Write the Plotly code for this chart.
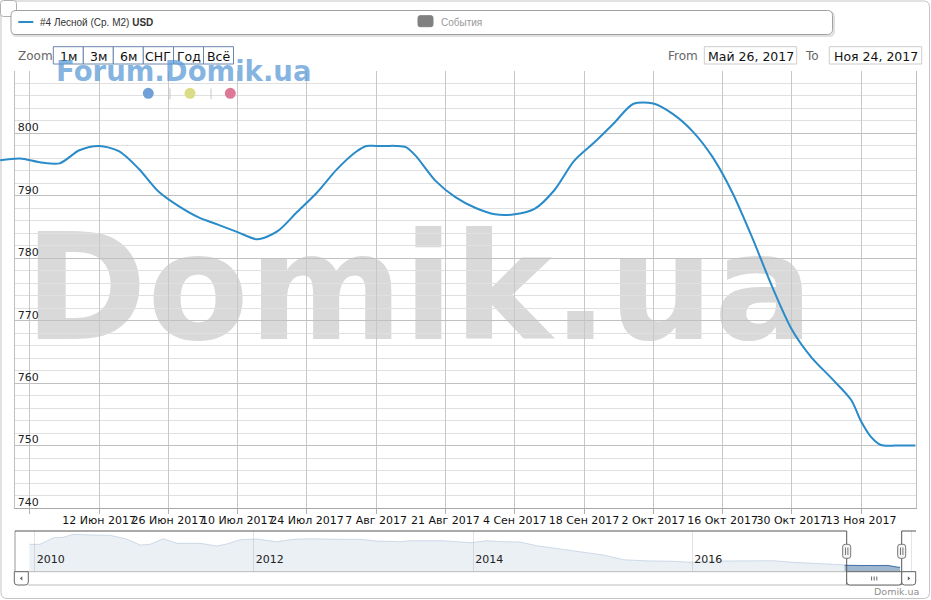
import pandas as pd
import plotly.graph_objects as go

W, H = 931, 600

# ---------------- data ----------------
dates = ['2017-05-23', '2017-05-27', '2017-05-31', '2017-06-04', '2017-06-08', '2017-06-12',
         '2017-06-16', '2017-06-20', '2017-06-24', '2017-06-28', '2017-07-02', '2017-07-06',
         '2017-07-10', '2017-07-14', '2017-07-18', '2017-07-22', '2017-07-26', '2017-07-30',
         '2017-08-03', '2017-08-05', '2017-08-07', '2017-08-09', '2017-08-11', '2017-08-13',
         '2017-08-15', '2017-08-19', '2017-08-23',
         '2017-08-27', '2017-08-31', '2017-09-04', '2017-09-08', '2017-09-12', '2017-09-16',
         '2017-09-20', '2017-09-24', '2017-09-28', '2017-10-02', '2017-10-06', '2017-10-10',
         '2017-10-14', '2017-10-18', '2017-10-22', '2017-10-26', '2017-10-30', '2017-11-03',
         '2017-11-07', '2017-11-11', '2017-11-13', '2017-11-15', '2017-11-17', '2017-11-20',
         '2017-11-24']
usd = [795.7, 796.0, 795.4, 795.2, 797.3, 798.0,
       797.15, 794.35, 790.7, 788.4, 786.6, 785.4,
       784.2, 783.05, 784.3, 787.4, 790.5, 794.2,
       797.1, 798.0, 798.0, 798.0, 798.0, 797.8,
       796.4, 792.4, 789.8,
       788.1, 787.05, 787.05, 787.9, 790.9, 795.6,
       798.5, 801.6, 804.75, 804.8, 803.1, 800.3,
       796.2, 790.5, 783.3, 775.5, 768.6, 764.1,
       760.8, 757.3, 753.9, 751.4, 750.1, 750.0,
       750.0]

nav_dates = ['2009-12-14', '2010-01-18', '2010-03-04', '2010-04-06', '2010-05-09', '2010-06-12',
             '2010-07-15', '2010-09-09', '2010-11-03', '2010-12-18', '2011-01-20', '2011-03-05',
             '2011-04-19', '2011-07-06', '2011-08-30', '2011-10-03', '2011-11-16', '2012-01-11',
             '2012-03-17', '2012-05-12', '2012-07-06', '2012-10-25', '2012-12-20', '2013-02-14',
             '2013-05-02', '2013-06-05', '2013-09-24', '2013-12-22', '2014-02-15', '2014-04-12',
             '2014-06-06', '2014-08-01', '2014-10-07', '2014-12-12', '2015-03-11', '2015-05-17',
             '2015-07-22', '2015-10-30', '2016-01-05', '2016-03-12', '2016-05-17', '2016-07-23',
             '2016-09-28', '2016-12-03', '2017-03-02']
nav_usd = [1302, 1302, 1460, 1470, 1542, 1542,
           1525, 1518, 1429, 1285, 1302, 1436,
           1326, 1326, 1261, 1309, 1412, 1429,
           1364, 1422, 1436, 1422, 1422, 1381,
           1364, 1388, 1388, 1340, 1388, 1364,
           1357, 1268, 1206, 1141, 1045, 932,
           908, 894, 870, 901, 901, 918,
           908, 870, 836]

sel_start, sel_end = '2017-05-26', '2017-11-24'
x_tick_dates = ['2017-05-29', '2017-06-12', '2017-06-26', '2017-07-10', '2017-07-24', '2017-08-07',
                '2017-08-21', '2017-09-04', '2017-09-18', '2017-10-02', '2017-10-16', '2017-10-30',
                '2017-11-13']
x_tick_text = ['', '12 Июн 2017', '26 Июн 2017', '10 Июл 2017', '24 Июл 2017', '7 Авг 2017',
               '21 Авг 2017', '4 Сен 2017', '18 Сен 2017', '2 Окт 2017', '16 Окт 2017',
               '30 Окт 2017', '13 Ноя 2017']
y_ticks = [740, 750, 760, 770, 780, 790, 800, 810]
y_tick_text = ['740', '750', '760', '770', '780', '790', '800', '']
zoom_buttons = ['1м', '3м', '6м', 'СНГ', 'Год', 'Всё']
series_name = '#4 Лесной (Ср. М2)'
currency = 'USD'

# ---------------- geometry helpers (pixels -> paper) ----------------
def px(x):
    return x / W

def py(y):
    return 1 - y / H

PL, PR, PT, PB = 15, 915.5, 71, 508          # main plot area
NT, NB, NR = 531, 571.7, 916                 # navigator
SB = 585                                     # scrollbar bottom
H1, H2 = 846.7, 901.7                        # navigator handles

line_color = '#2a8bc9'
FONT = 'DejaVu Sans'

fig = go.Figure()

# watermark (behind the grid) on a pixel canvas subplot
fig.add_trace(go.Scatter(x=[419], y=[302], mode='text', text=['Domik.ua'],
                         textfont=dict(family=FONT, size=148, color='#d9d9d9', weight='bold'),
                         xaxis='x', yaxis='y', hoverinfo='skip', showlegend=False, cliponaxis=False))
# main grid subplot (no data drawn, only axes)
fig.add_trace(go.Scatter(x=[], y=[], xaxis='x2', yaxis='y2', showlegend=False))
# navigator
fig.add_trace(go.Scatter(x=nav_dates + dates, y=nav_usd + usd, xaxis='x3', yaxis='y3',
                         mode='lines', fill='tozeroy', line=dict(color='rgba(69,114,167,0.22)', width=1),
                         fillcolor='rgba(69,114,167,0.11)', hoverinfo='skip', showlegend=False))
fig.add_trace(go.Scatter(x=dates, y=usd, xaxis='x3', yaxis='y3',
                         mode='lines', fill='tozeroy', line=dict(color='#4572A7', width=1),
                         fillcolor='rgba(69,114,167,0.45)', hoverinfo='skip', showlegend=False))
# main line (slightly wider domain so it starts at the left edge of the chart like the original)
fig.add_trace(go.Scatter(x=dates, y=usd, xaxis='x4', yaxis='y4', mode='lines',
                         line=dict(color=line_color, width=2, shape='spline', smoothing=0.8),
                         name=series_name, showlegend=False))

t0, t1 = pd.Timestamp(sel_start), pd.Timestamp(sel_end)
ext_start = t0 - (t1 - t0) * (PL / (PR - PL))

main_dom_x = [px(PL), px(PR)]
main_dom_y = [py(PB), py(PT)]

fig.update_layout(
    width=W, height=H,
    margin=dict(l=0, r=0, t=0, b=0),
    paper_bgcolor='white', plot_bgcolor='rgba(0,0,0,0)',
    showlegend=False,
    font=dict(family=FONT, size=11, color='#222'),
    xaxis=dict(domain=main_dom_x, range=[PL, PR], visible=False, fixedrange=True, anchor='y'),
    yaxis=dict(domain=main_dom_y, range=[PB, PT], visible=False, fixedrange=True, anchor='x'),
    xaxis2=dict(domain=main_dom_x, range=[sel_start, sel_end], type='date', anchor='y2',
                tickmode='array', tickvals=x_tick_dates, ticktext=x_tick_text, tickangle=0,
                showgrid=True, gridcolor='#c8c8c8', gridwidth=1,
                ticks='outside', ticklen=5, tickcolor='#b0b0b0', ticklabelstandoff=-3,
                showline=True, linecolor='#a8a8a8', linewidth=1, zeroline=False,
                tickfont=dict(family=FONT, size=11, color='#111')),
    yaxis2=dict(domain=main_dom_y, range=[740, 810], anchor='x2',
                tickmode='array', tickvals=y_ticks, ticktext=y_tick_text,
                showgrid=True, gridcolor='#c0c0c0', zeroline=False,
                minor=dict(tickmode='linear', tick0=740, dtick=2, showgrid=True, gridcolor='#e0e0e0', ticks=''),
                ticks='', ticklabelposition='inside', ticklabelshift=-6, ticklabelstandoff=2,
                ticklabeloverflow='allow',
                showline=True, mirror=True, linecolor='#c0c0c0',
                tickfont=dict(family=FONT, size=11, color='#222')),
    xaxis3=dict(domain=[px(PL), px(NR)], range=['2009-10-27', '2018-01-16'], type='date', anchor='y3',
                tick0='2010-01-01', dtick='M24', tickformat='%Y', ticks='',
                ticklabelposition='inside right', showgrid=True, gridcolor='#e4e4e4',
                showline=False, zeroline=False, ticklabelshift=2, ticklabelstandoff=1,
                tickfont=dict(family=FONT, size=11, color='#222')),
    yaxis3=dict(domain=[py(NB), py(NT)], range=[644, 1621], anchor='x3', visible=False, fixedrange=True),
    xaxis4=dict(domain=[0, px(PR)], range=[ext_start, sel_end], type='date', anchor='y4', visible=False),
    yaxis4=dict(domain=main_dom_y, range=[740, 810], anchor='x4', visible=False),
)

shapes = []
ann = []

def P(x, y):
    return f'{px(x):.6f},{py(y):.6f}'

def rrect(x0, y0, x1, y1, r, line='#999', fill='white', width=1, layer='above', corners=(1, 1, 1, 1)):
    rtl, rtr, rbr, rbl = [r * c for c in corners]
    path = (f'M {P(x0 + rtl, y0)} L {P(x1 - rtr, y0)} Q {P(x1, y0)} {P(x1, y0 + rtr)} '
            f'L {P(x1, y1 - rbr)} Q {P(x1, y1)} {P(x1 - rbr, y1)} '
            f'L {P(x0 + rbl, y1)} Q {P(x0, y1)} {P(x0, y1 - rbl)} '
            f'L {P(x0, y0 + rtl)} Q {P(x0, y0)} {P(x0 + rtl, y0)} Z')
    shapes.append(dict(type='path', path=path, xref='paper', yref='paper',
                       line=dict(color=line, width=width), fillcolor=fill, layer=layer))

def seg(x0, y0, x1, y1, color='#999', width=1):
    shapes.append(dict(type='line', xref='paper', yref='paper', x0=px(x0), y0=py(y0), x1=px(x1), y1=py(y1),
                       line=dict(color=color, width=width), layer='above'))

def text(x, y, s, size=11, color='#222', xanchor='center', family=FONT):
    ann.append(dict(x=px(x), y=py(y), xref='paper', yref='paper', text=s, showarrow=False,
                    xanchor=xanchor, yanchor='middle', font=dict(family=family, size=size, color=color)))

# outer chart frame
rrect(1, 1, 929.5, 598.5, 6, line='#c4c4c4', fill='rgba(0,0,0,0)', layer='below')
rrect(0.5, 0.5, 16.5, 16.5, 3, line='#b0b0b0', fill='white')

# legend box with shadow
rrect(12, 12, 834, 36, 5, line='rgba(0,0,0,0.12)', fill='rgba(0,0,0,0)', width=2)
rrect(11, 10.5, 832.5, 34.5, 5, line='#a0a0a0', fill='white')
seg(18.3, 22, 33.3, 22, color=line_color, width=2)
text(38, 22.5, f'{series_name} <b>{currency}</b>', size=10, color='#333', xanchor='left', family='Liberation Sans')
rrect(418, 15.7, 433, 26.7, 2, line='#808080', fill='#808080')
text(438.5, 22.5, 'События', size=10, color='#999', xanchor='left', family='Liberation Sans')

# range selector
text(15.5, 56, 'Zoom', size=12, color='#666', xanchor='left')
bx = [53.3, 83.3, 113.3, 143.3, 173.5, 203.5, 233.5]
for i, lab in enumerate(zoom_buttons):
    shapes.append(dict(type='rect', xref='paper', yref='paper', x0=px(bx[i]), x1=px(bx[i + 1]),
                       y0=py(64), y1=py(46.7), line=dict(color='#6a86ad', width=1), fillcolor='white',
                       layer='above'))
    text((bx[i] + bx[i + 1]) / 2, 56, lab, size=12.5, color='#111')

text(682.5, 56, 'From', size=12, color='#666')
text(812, 56, 'To', size=12, color='#666')
for (a, b, lab) in [(704.3, 796.7, 'Май 26, 2017'), (829.3, 921.7, 'Ноя 24, 2017')]:
    shapes.append(dict(type='rect', xref='paper', yref='paper', x0=px(a), x1=px(b), y0=py(64), y1=py(46.7),
                       line=dict(color='#cccccc', width=1), fillcolor='white', layer='above'))
    text((a + b) / 2, 56, lab, size=12.5, color='#111')

# forum logo and dots
ann.append(dict(x=px(183), y=py(71.5), xref='paper', yref='paper', text='<b>Forum.Domik.ua</b>',
                showarrow=False, xanchor='center', yanchor='middle',
                font=dict(family=FONT, size=27.5, color='rgba(88,152,214,0.72)')))
for cx, col in [(148.3, 'rgb(111,160,215)'), (190, 'rgb(219,221,134)'), (230.3, 'rgb(221,120,150)')]:
    shapes.append(dict(type='circle', xref='paper', yref='paper', x0=px(cx - 5.5), x1=px(cx + 5.5),
                       y0=py(93.3 + 5.5), y1=py(93.3 - 5.5), line=dict(width=0), fillcolor=col, layer='above'))
for sx in (170, 211):
    seg(sx, 88.3, sx, 99.3, color='#c8c8c8')

# navigator frame, outline, handles
seg(PL, NB, NR, NB, color='#bbbbbb')
seg(PL, NT, PL, NB, color='#999999')
seg(PL, NT, H1, NT, color='#555555')
seg(H2, NT, NR, NT, color='#555555')
seg(H1, NT, H1, SB, color='#555555')
seg(H2, NT, H2, SB, color='#555555')
for hx in (H1, H2):
    rrect(hx - 4, 544.3, hx + 4, 558.3, 2.5, line='#777777', fill='#f4f4f4')
    seg(hx - 1.2, 547.5, hx - 1.2, 555, color='#777777')
    seg(hx + 1.2, 547.5, hx + 1.2, 555, color='#777777')

# scrollbar
seg(28.3, SB, H2, SB, color='#bbbbbb')
rrect(14.3, NB, 28.3, SB, 3, line='#666666', fill='white', corners=(0, 0, 1, 1))
rrect(H1, NB, H2, SB, 3, line='#666666', fill='white', corners=(0, 0, 1, 1))
rrect(H2, NB, 915.7, SB, 3, line='#666666', fill='white', corners=(0, 0, 1, 1))
for gx in (871.6, 874.2, 876.8):
    seg(gx, 576.5, gx, 580.5, color='#666666')
shapes.append(dict(type='path', xref='paper', yref='paper', layer='above', fillcolor='#666666',
                   line=dict(width=0), path=f'M {P(19.8, 578.4)} L {P(22.3, 576.2)} L {P(22.3, 580.6)} Z'))
shapes.append(dict(type='path', xref='paper', yref='paper', layer='above', fillcolor='#666666',
                   line=dict(width=0), path=f'M {P(910.3, 578.4)} L {P(907.8, 576.2)} L {P(907.8, 580.6)} Z'))

# credits
text(921, 591.5, 'Domik.ua', size=9.5, color='#909090', xanchor='right')

fig.update_layout(shapes=shapes, annotations=ann)
fig.write_html('out.html', config={'displayModeBar': False},
               post_script="document.body.style.margin='0px';document.body.style.overflow='hidden';")
